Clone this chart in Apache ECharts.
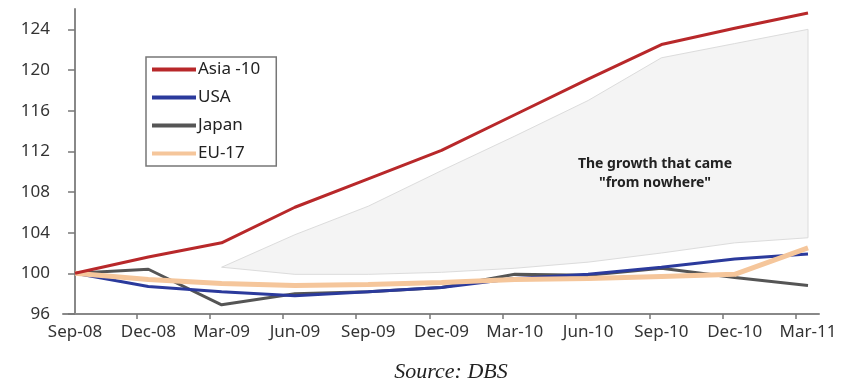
<!DOCTYPE html>
<html>
<head>
<meta charset="utf-8">
<script src="https://cdn.jsdelivr.net/npm/echarts@6/dist/echarts.min.js"></script>
<style>
  html, body { margin: 0; padding: 0; background: #fff; }
  #chart { width: 852px; height: 386px; }
</style>
</head>
<body>
<div id="chart"></div>
<script>
// 季度
var quarters = ["Sep-08", "Dec-08", "Mar-09", "Jun-09", "Sep-09", "Dec-09", "Mar-10", "Jun-10", "Sep-10", "Dec-10", "Mar-11"];
var asia10 = [100, 101.6, 103.0, 106.5, 109.3, 112.1, 115.6, 119.1, 122.5, 124.1, 125.6];
var usa = [100, 98.7, 98.2, 97.8, 98.2, 98.6, 99.5, 99.9, 100.6, 101.4, 101.9];
var japan = [100, 100.4, 96.9, 98.0, 98.2, 98.6, 99.9, 99.8, 100.5, 99.6, 98.8];
var eu17 = [100, 99.4, 99.0, 98.8, 98.9, 99.1, 99.4, 99.5, 99.7, 99.9, 102.5];
// 阴影区域 (Mar-09 起)
var bandUpper = [null, null, 100.6, 103.8, 106.6, 110.1, 113.5, 117.0, 121.2, 122.6, 124.0];
var bandLower = [null, null, 100.6, 99.9, 99.9, 100.1, 100.5, 101.1, 102.0, 103.0, 103.5];
var yTicks = [96, 100, 104, 108, 112, 116, 120, 124];

var TICK_SHIFT = 0.164;

function pairs(arr) {
  return arr.map(function (v, i) { return [i, v]; });
}

var chart = echarts.init(document.getElementById("chart"));
var font = "'Noto Sans', 'DejaVu Sans', sans-serif";

chart.setOption({
  backgroundColor: "#fff",
  animation: false,
  grid: { left: 63, right: 33, top: 9, bottom: 72 },
  legend: {
    orient: "vertical",
    left: 146,
    top: 57,
    padding: [4, 16, 4, 4],
    itemWidth: 44,
    itemHeight: 14,
    itemGap: 11,
    borderColor: "#777",
    borderWidth: 1.5,
    itemStyle: { color: "transparent", borderWidth: 0 },
    lineStyle: { width: 4 },
    textStyle: { color: "#222", fontSize: 17, fontFamily: font, padding: [0, 0, 0, -3] },
    data: ["Asia -10", "USA", "Japan", "EU-17"]
  },
  xAxis: {
    type: "value",
    min: -TICK_SHIFT,
    max: 10.15,
    splitLine: { show: false },
    axisLine: { show: true, lineStyle: { color: "#888", width: 2 } },
    axisTick: {
      show: true,
      length: 5,
      lineStyle: { color: "#777", width: 1.5 },
      customValues: quarters.map(function (q, i) { return i - TICK_SHIFT; }).slice(1)
    },
    axisLabel: {
      color: "#333",
      fontSize: 17,
      fontFamily: font,
      margin: 10,
      customValues: quarters.map(function (q, i) { return i; }),
      formatter: function (v) { return quarters[Math.round(v)]; }
    }
  },
  yAxis: {
    type: "value",
    min: 96,
    max: 126,
    splitLine: { show: false },
    axisLine: { show: true, lineStyle: { color: "#888", width: 2 } },
    axisTick: { show: true, length: 7, lineStyle: { color: "#777", width: 1.5 }, customValues: yTicks },
    axisLabel: { color: "#333", fontSize: 17, fontFamily: font, margin: 13, customValues: yTicks }
  },
  graphic: [
    {
      type: "text",
      x: 655,
      y: 155,
      z: 10,
      style: {
        text: "The growth that came\n\"from nowhere\"",
        font: "bold 14px " + font,
        fill: "#222",
        textAlign: "center",
        lineHeight: 19
      }
    },
    {
      type: "text",
      x: 451,
      y: 361,
      style: {
        text: "Source: DBS",
        font: "italic 22px 'Liberation Serif', serif",
        fill: "#222",
        textAlign: "center"
      }
    }
  ],
  series: [
    {
      // 阴影
      type: "custom",
      silent: true,
      z: 1,
      data: [0],
      renderItem: function (params, api) {
        var top = [], bottom = [];
        for (var i = 0; i < bandUpper.length; i++) {
          if (bandUpper[i] == null) continue;
          top.push(api.coord([i, bandUpper[i]]));
          bottom.unshift(api.coord([i, bandLower[i]]));
        }
        return {
          type: "polygon",
          shape: { points: top.concat(bottom) },
          style: { fill: "#f4f4f4", stroke: "#dcdcdc", lineWidth: 1 }
        };
      }
    },
    { name: "EU-17", type: "line", symbol: "none", z: 3, data: pairs(eu17),
      lineStyle: { color: "#f5c69b", width: 5 }, itemStyle: { color: "#f5c69b" } },
    { name: "Japan", type: "line", symbol: "none", z: 2, data: pairs(japan),
      lineStyle: { color: "#555", width: 3 }, itemStyle: { color: "#555" } },
    { name: "USA", type: "line", symbol: "none", z: 2, data: pairs(usa),
      lineStyle: { color: "#2b3a9c", width: 3 }, itemStyle: { color: "#2b3a9c" } },
    { name: "Asia -10", type: "line", symbol: "none", z: 4, data: pairs(asia10),
      lineStyle: { color: "#b8282a", width: 3 }, itemStyle: { color: "#b8282a" } }
  ]
});
</script>
</body>
</html>
